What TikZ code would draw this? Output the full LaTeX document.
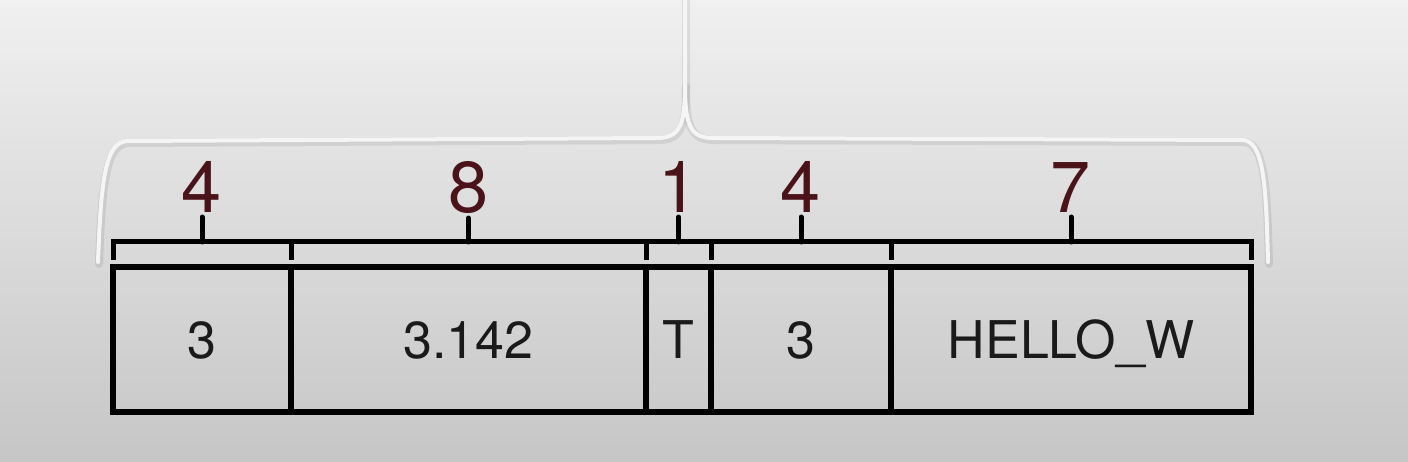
\documentclass[tikz,border=0pt]{standalone}
\usepackage{fontspec}
\setmainfont{TeX Gyre Heros}
\usetikzlibrary{calc}
\definecolor{numred}{HTML}{4A1219}
\definecolor{bgtop}{HTML}{F0F0F0}
\definecolor{bgbot}{HTML}{C6C6C6}
\definecolor{celltext}{HTML}{1A1A1A}
\tikzset{
 cell/.style={draw=black,line width=6pt,minimum height=145pt,inner sep=0pt,outer sep=0pt,
   font=\fontsize{52}{52}\selectfont,text=celltext,text height=37pt,text depth=0pt,anchor=north west},
 sizelabel/.style={text=numred,font=\fontsize{72}{72}\selectfont,inner sep=0pt,outer sep=0pt,anchor=base},
 bracketline/.style={draw=black,line width=5pt,line cap=butt,line join=miter},
 bracetick/.style={draw=black,line width=5pt,line cap=round},
 bigbrace/.style={draw=white!96!black,line width=4pt,line cap=round,line join=round},
 braceshadow/.style={draw=black,opacity=0.08,line width=8pt,line cap=round,line join=round},
}
\begin{document}
\begin{tikzpicture}[x=1pt,y=-1pt]
\shade[top color=bgtop,bottom color=bgbot] (0,0) rectangle (1408,462);
\useasboundingbox (0,0) rectangle (1408,462);

% big brace (shadow then line)
\begin{scope}[shift={(1,2)}]
\draw[braceshadow] (98,262) .. controls (101,185) and (104,141) .. (128,141) -- (657,138)
  .. controls (680,138) and (685,125) .. (685,85) -- (685,-10);
\draw[braceshadow] (685,85) .. controls (685,125) and (690,138) .. (713,138) -- (1242,140)
  .. controls (1264,140) and (1266,185) .. (1268,262);
\end{scope}
\draw[bigbrace] (98,262) .. controls (101,185) and (104,141) .. (128,141) -- (657,138)
  .. controls (680,138) and (685,125) .. (685,85) -- (685,-10);
\draw[bigbrace] (685,85) .. controls (685,125) and (690,138) .. (713,138) -- (1242,140)
  .. controls (1264,140) and (1266,185) .. (1268,262);

% cells
\node[cell,minimum width=178pt] (c1) at (113,267) {3};
\node[cell,minimum width=355pt] (c2) at (291,267) {3.142};
\node[cell,minimum width=65pt]  (c3) at (646,267) {T};
\node[cell,minimum width=180pt] (c4) at (711,267) {3};
\node[cell,minimum width=360pt] (c5) at (891,267) {HELLO\_W};

% size labels
\foreach \c/\n in {c1/4,c2/8,c3/1,c4/4,c5/7}{
  \node[sizelabel] (n\c) at ($(\c.north)+(0,-54)$) {\n};
  \draw[bracketline] ($(\c.north west)+(0,-7)$) |- ($(\c.north)+(0,-25)$) -| ($(\c.north east)+(0,-7)$);
  \draw[bracetick] ($(\c.north)+(0,-25)$) -- ($(n\c.south)+(0,4)$);
}
\end{tikzpicture}
\end{document}
